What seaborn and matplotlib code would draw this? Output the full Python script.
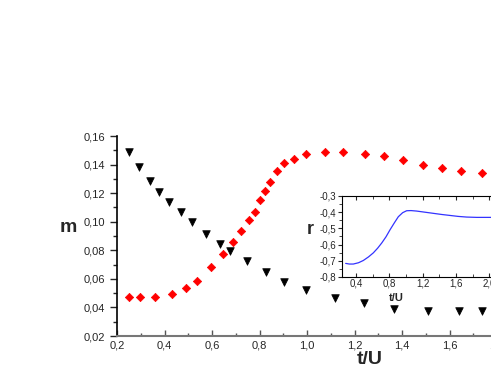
import pandas as pd
import seaborn as sns
import matplotlib.pyplot as plt
from matplotlib.ticker import MultipleLocator, FuncFormatter

# black triangles (m, first series)
tri_t = [0.25, 0.293, 0.339, 0.378, 0.418, 0.468, 0.517, 0.576, 0.632, 0.674,
         0.746, 0.827, 0.904, 0.994, 1.118, 1.241, 1.366, 1.509, 1.64, 1.735]
tri_m = [0.1486, 0.1385, 0.1287, 0.1208, 0.114, 0.1066, 0.0996, 0.0916, 0.0846, 0.0797,
         0.0725, 0.0646, 0.0576, 0.052, 0.0464, 0.0429, 0.0391, 0.0377, 0.0375, 0.0375]

# red diamonds (m, second series)
dia_t = [0.25, 0.298, 0.36, 0.432, 0.489, 0.537, 0.596, 0.646, 0.687, 0.722,
         0.756, 0.781, 0.804, 0.825, 0.844, 0.875, 0.904, 0.944, 0.994, 1.074,
         1.153, 1.243, 1.323, 1.403, 1.49, 1.568, 1.648, 1.737]
dia_m = [0.0473, 0.0473, 0.0475, 0.0492, 0.0534, 0.0585, 0.0685, 0.0774, 0.0858, 0.0933,
         0.1014, 0.1068, 0.115, 0.1213, 0.1278, 0.1357, 0.1409, 0.1441, 0.1474, 0.1488,
         0.1488, 0.1476, 0.1462, 0.143, 0.1399, 0.1374, 0.1357, 0.1339]

# inset curve r(t/U)
r_t = [0.276, 0.32, 0.368, 0.43, 0.488, 0.55, 0.608, 0.66, 0.709, 0.76, 0.808, 0.86,
       0.908, 0.96, 1.008, 1.06, 1.128, 1.228, 1.328, 1.428, 1.528, 1.628, 1.728, 1.85, 2.008, 2.2]
r_v = [-0.716, -0.72, -0.72, -0.712, -0.698, -0.676, -0.651, -0.622, -0.59, -0.552, -0.509, -0.466,
       -0.428, -0.403, -0.391, -0.39, -0.393, -0.4, -0.407, -0.414, -0.42, -0.426, -0.43, -0.432, -0.432, -0.433]

comma = FuncFormatter(lambda v, p: f"{v:.2f}".replace(".", ","))
comma1 = FuncFormatter(lambda v, p: f"{v:.1f}".replace(".", ","))

sns.set_style("white")
plt.rcParams['font.family'] = ['Liberation Sans', 'DejaVu Sans']

fig = plt.figure(figsize=(4.91, 3.82), dpi=100)
W, H = 491, 382
ax = fig.add_axes([117 / W, 1 - 336 / H, (497 - 117) / W, (336 - 136) / H])

df_tri = pd.DataFrame({"t": tri_t, "m": tri_m})
df_dia = pd.DataFrame({"t": dia_t, "m": dia_m})
sns.scatterplot(data=df_tri, x="t", y="m", ax=ax, marker="v", color="black",
                s=30, edgecolor="black", linewidth=0.5, clip_on=False)
sns.scatterplot(data=df_dia, x="t", y="m", ax=ax, marker="D", color="red",
                s=18, edgecolor="red", linewidth=0.5, clip_on=False)

ax.set_xlim(0.2, 1.8)
ax.set_ylim(0.02, 0.16)
ax.xaxis.set_major_locator(MultipleLocator(0.2))
ax.xaxis.set_minor_locator(MultipleLocator(0.1))
ax.yaxis.set_major_locator(MultipleLocator(0.02))
ax.yaxis.set_minor_locator(MultipleLocator(0.01))
ax.xaxis.set_major_formatter(comma1)
ax.yaxis.set_major_formatter(comma)
for s in ["top", "right"]:
    ax.spines[s].set_visible(False)
ax.spines["left"].set_color("black")
ax.spines["bottom"].set_color("#777777")
ax.spines["left"].set_linewidth(1.2)
ax.spines["bottom"].set_linewidth(1.5)
ax.tick_params(axis="y", which="major", direction="out", length=5, width=1, left=True, labelsize=8)
ax.tick_params(axis="y", which="minor", direction="out", length=3, width=1, left=True)
ax.tick_params(axis="x", which="major", direction="in", length=4, width=1, bottom=True,
               labelsize=8, color="#555555", pad=3)
ax.tick_params(axis="x", which="minor", direction="in", length=2, width=1, bottom=True, color="#555555")
ax.set_xlabel("t/U", fontsize=14, fontweight="bold")
ax.set_ylabel("m", fontsize=14, fontweight="bold", rotation=0)
ax.xaxis.set_label_coords((370 - 117) / (497 - 117), -0.075)
ax.yaxis.set_label_coords((68 - 117) / (497 - 117), (336 - 236) / 200)

# inset
x0 = 0.4 - (356 - 342) / 83.3
x1 = 2.2
right_px = 356 + (x1 - 0.4) * 83.3
ins = fig.add_axes([342 / W, 1 - 277 / H, (right_px - 342) / W, (277 - 196) / H])
df_r = pd.DataFrame({"t": r_t, "r": r_v})
sns.lineplot(data=df_r, x="t", y="r", ax=ins, color="#3333ff", linewidth=0.9)
ins.set_xlim(x0, x1)
ins.set_ylim(-0.8, -0.3)
ins.xaxis.set_major_locator(MultipleLocator(0.4))
ins.xaxis.set_minor_locator(MultipleLocator(0.2))
ins.yaxis.set_major_locator(MultipleLocator(0.1))
ins.yaxis.set_minor_locator(MultipleLocator(0.05))
ins.xaxis.set_major_formatter(comma1)
ins.yaxis.set_major_formatter(comma1)
for s in ins.spines.values():
    s.set_color("black")
    s.set_linewidth(0.8)
ins.tick_params(axis="both", which="major", labelsize=7, length=3, width=0.8, pad=1)
ins.tick_params(axis="y", which="major", direction="out", left=True)
ins.tick_params(axis="y", which="minor", direction="out", left=True, length=2)
ins.tick_params(axis="x", which="both", direction="in", bottom=True, top=True)
ins.tick_params(axis="x", which="minor", length=2)
ins.set_xlabel("t/U", fontsize=8, fontweight="bold", labelpad=0)
ins.set_ylabel("r", fontsize=13, fontweight="bold", rotation=0)
ins.xaxis.set_label_coords((396 - 342) / (right_px - 342), -0.2)
ins.yaxis.set_label_coords((310 - 342) / (right_px - 342), (277 - 238) / 81)

fig.savefig("out.png", dpi=100)
